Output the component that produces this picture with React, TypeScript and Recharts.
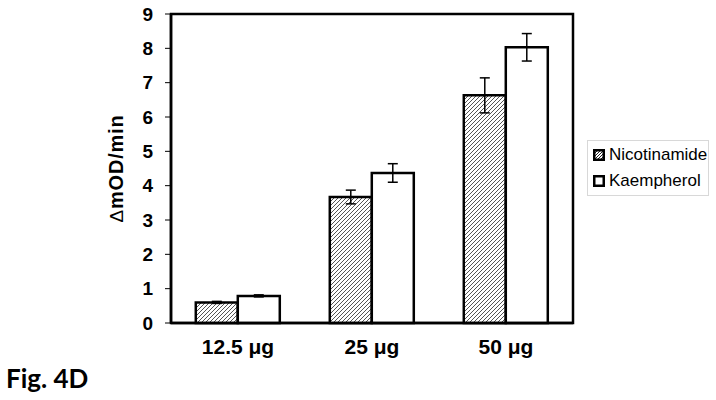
import React from "react";
import { Bar, BarChart, ErrorBar, ReferenceArea, XAxis, YAxis } from "recharts";

const doses = ["12.5 μg", "25 μg", "50 μg"];
const nicotinamide = [0.6, 3.67, 6.63];
const nicotinamideErr = [0.03, 0.2, 0.51];
const kaempherol = [0.79, 4.37, 8.03];
const kaempherolErr = [0.03, 0.27, 0.4];
const yTicks = [0, 1, 2, 3, 4, 5, 6, 7, 8, 9];

const data = doses.map((dose, i) => ({
  dose,
  nic: nicotinamide[i],
  nicErr: nicotinamideErr[i],
  kae: kaempherol[i],
  kaeErr: kaempherolErr[i]
}));

const arial = "'Liberation Sans', Arial, sans-serif";
const yTick = { fontFamily: arial, fontWeight: 700, fontSize: 19, fill: "#000" };
const xTick = { fontFamily: arial, fontWeight: 700, fontSize: 21, fill: "#000" };

function LegendBox() {
  const item = (label: string, hatched: boolean) => (
    <div style={{ display: "flex", alignItems: "center", gap: 4, height: 26 }}>
      <svg width={12} height={12}>
        <rect x={1.25} y={1.25} width={9.5} height={9.5} fill={hatched ? "url(#hatchSmall)" : "#fff"} stroke="#000" strokeWidth={2.5} />
      </svg>
      <span>{label}</span>
    </div>
  );
  return (
    <div
      style={{
        position: "absolute",
        left: 587,
        top: 140,
        boxSizing: "border-box",
        border: "1px solid #d8d8d8",
        padding: "1px 0 1px 5px",
        fontFamily: arial,
        fontSize: 17,
        color: "#000",
        width: 122,
        height: 56,
        whiteSpace: "nowrap"
      }}
    >
      {item("Nicotinamide", true)}
      {item("Kaempherol", false)}
    </div>
  );
}

function YLabel(props: any) {
  const vb = props.viewBox;
  const cx = 116;
  const cy = vb.y + vb.height / 2;
  return (
    <text
      transform={`translate(${cx},${cy}) rotate(-90)`}
      textAnchor="middle"
      dominantBaseline="central"
      fontFamily={arial}
      fontWeight={700}
      fontSize={20}
      letterSpacing={0.8}
      fill="#000"
    >
      <tspan fontWeight={400} fontSize={19}>Δ</tspan>
      <tspan>mOD/min</tspan>
    </text>
  );
}

export default function App() {
  return (
    <div style={{ position: "absolute", left: 0, top: 0, width: 716, height: 400, background: "#fff" }}>
      <BarChart
        width={716}
        height={400}
        data={data}
        margin={{ top: 14, right: 143, bottom: 0, left: 0 }}
        barCategoryGap="18.5%"
        barGap={0}
      >
        <defs>
          <pattern id="hatch" patternUnits="userSpaceOnUse" width={4} height={4}>
            <rect width={4} height={4} fill="#fff" />
            <path d="M-1,1 l2,-2 M0,4 l4,-4 M3,5 l2,-2" stroke="#555" strokeWidth={1} />
          </pattern>
          <pattern id="hatchSmall" patternUnits="userSpaceOnUse" width={3} height={3}>
            <rect width={3} height={3} fill="#fff" />
            <path d="M-1,1 l2,-2 M0,3 l3,-3 M2,4 l2,-2" stroke="#222" strokeWidth={1} />
          </pattern>
        </defs>
        <XAxis
          dataKey="dose"
          tickLine={false}
          axisLine={{ stroke: "#000", strokeWidth: 2.5 }}
          tick={xTick}
          tickMargin={10}
          height={77}
          interval={0}
        />
        <YAxis
          domain={[0, 9]}
          ticks={yTicks}
          width={171}
          tick={yTick}
          tickSize={6}
          tickMargin={12}
          tickLine={{ stroke: "#000", strokeWidth: 1 }}
          axisLine={{ stroke: "#000", strokeWidth: 2.5 }}
          label={<YLabel />}
        />
        <ReferenceArea y1={0} y2={9} fill="none" stroke="#000" strokeWidth={2.5} ifOverflow="visible" />
        <Bar dataKey="nic" name="Nicotinamide" fill="url(#hatch)" stroke="#000" strokeWidth={2.5} isAnimationActive={false}>
          <ErrorBar dataKey="nicErr" width={5} stroke="#000" strokeWidth={1.5} direction="y" />
        </Bar>
        <Bar dataKey="kae" name="Kaempherol" fill="#fff" stroke="#000" strokeWidth={2.5} isAnimationActive={false}>
          <ErrorBar dataKey="kaeErr" width={5} stroke="#000" strokeWidth={1.5} direction="y" />
        </Bar>
      </BarChart>
      <LegendBox />
      <div
        style={{
          position: "absolute",
          left: 6,
          top: 362,
          fontFamily: "Lato, 'Open Sans', sans-serif",
          fontWeight: 700,
          fontSize: 26,
          color: "#000"
        }}
      >
        Fig. 4D
      </div>
    </div>
  );
}
